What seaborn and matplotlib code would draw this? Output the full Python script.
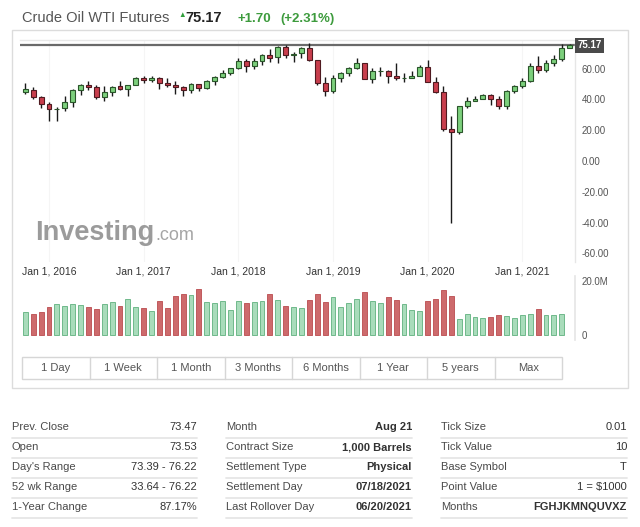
import numpy as np
import pandas as pd
import matplotlib
matplotlib.use("Agg")
import matplotlib.pyplot as plt
import matplotlib.transforms as mtrans
from matplotlib.patches import Rectangle
from matplotlib.lines import Line2D
import seaborn as sns

# ---------------- data (monthly, Oct 2015 .. Jul 2021) ----------------
opens = [45.09, 46.14, 41.85, 36.81, 33.50, 34.12, 38.30, 45.86, 49.10, 48.27, 41.42, 44.74,
         48.43, 46.79, 49.48, 53.87, 52.81, 54.00, 50.54, 49.35, 48.35, 46.03, 50.17, 47.23,
         51.67, 54.40, 57.36, 60.20, 64.90, 61.79, 64.90, 68.60, 67.25, 74.02, 68.55, 69.88,
         73.30, 65.34, 50.93, 45.41, 53.79, 57.22, 60.14, 63.91, 53.50, 58.47, 58.58, 55.10,
         54.07, 54.18, 55.17, 61.06, 51.56, 44.76, 20.48, 18.84, 35.49, 39.27, 40.27, 42.61,
         40.22, 35.79, 45.34, 48.52, 52.20, 61.50, 59.16, 63.58, 66.32, 73.53]
highs = [50.92, 48.36, 42.26, 38.39, 34.82, 41.90, 46.78, 50.21, 51.67, 49.06, 48.75, 48.40,
         51.93, 49.20, 54.51, 55.24, 54.94, 54.56, 53.76, 52.00, 48.98, 50.43, 50.22, 52.86,
         54.90, 59.05, 60.51, 66.66, 66.27, 66.66, 69.56, 72.90, 74.46, 75.27, 70.84, 74.00,
         76.90, 65.50, 54.55, 55.75, 57.81, 60.73, 66.60, 63.91, 60.09, 60.94, 58.82, 63.38,
         56.92, 58.65, 62.34, 65.65, 54.66, 48.75, 29.13, 35.84, 41.63, 42.51, 43.78, 43.43,
         41.93, 46.26, 49.43, 53.93, 63.81, 67.98, 65.47, 68.87, 76.22, 76.22]
lows = [43.23, 40.00, 34.53, 26.19, 26.05, 32.74, 35.24, 43.03, 45.83, 40.57, 39.19, 42.52,
        46.16, 42.20, 49.17, 50.71, 51.22, 47.01, 48.18, 43.76, 42.05, 44.40, 45.58, 46.51,
        49.10, 54.20, 55.82, 59.90, 58.07, 59.95, 62.45, 64.22, 63.59, 67.03, 64.43, 67.00,
        64.86, 49.41, 42.36, 44.35, 51.23, 55.04, 60.05, 53.05, 50.60, 55.31, 50.52, 52.64,
        50.99, 54.09, 55.00, 51.34, 44.00, 19.27, -40.32, 17.75, 34.36, 38.72, 40.21, 36.13,
        33.64, 33.64, 44.06, 47.18, 51.55, 57.25, 57.63, 61.56, 64.73, 73.39]
closes = [46.59, 41.65, 37.04, 33.62, 33.75, 38.34, 45.92, 49.10, 48.33, 41.60, 44.70, 48.24,
          46.86, 49.44, 53.72, 52.81, 54.01, 50.60, 49.33, 48.32, 46.04, 50.17, 47.23, 51.67,
          54.38, 57.40, 60.42, 64.73, 61.64, 64.94, 68.57, 67.04, 74.15, 68.76, 69.80, 73.25,
          65.31, 50.93, 45.41, 53.79, 57.22, 60.14, 63.91, 53.50, 58.47, 58.58, 55.10, 54.07,
          54.18, 55.17, 61.06, 51.56, 44.76, 20.48, 18.84, 35.49, 39.27, 40.27, 42.61, 40.22,
          35.79, 45.34, 48.52, 52.20, 61.50, 59.16, 63.58, 66.32, 73.47, 75.17]
# volume in millions (Oct 2015 .. Jun 2021)
volume_m = [8.4, 7.8, 8.6, 10.5, 11.5, 10.9, 11.5, 11.2, 10.5, 9.5, 11.5, 12.2,
            10.9, 13.3, 10.5, 10.0, 9.0, 12.6, 9.9, 14.4, 15.1, 14.8, 17.2, 12.2,
            11.9, 12.6, 9.4, 12.5, 11.9, 12.1, 12.6, 15.1, 12.8, 10.9, 10.4, 10.1,
            13.0, 15.1, 12.2, 14.0, 10.5, 11.9, 13.3, 16.0, 12.6, 11.9, 14.0, 13.0,
            11.5, 9.4, 9.0, 12.6, 13.3, 16.8, 14.4, 5.8, 7.7, 6.6, 6.2, 6.6,
            7.3, 6.9, 6.2, 7.3, 7.7, 9.7, 7.3, 7.3, 7.7]
x_tick_idx = [3, 15, 27, 39, 51, 63]
x_tick_labels = ["Jan 1, 2016", "Jan 1, 2017", "Jan 1, 2018", "Jan 1, 2019", "Jan 1, 2020", "Jan 1, 2021"]
y_ticks = [-60, -40, -20, 0, 20, 40, 60]
last_price = 75.17

title_text = "Crude Oil WTI Futures"
price_text = "75.17"
change_text = "+1.70"
pct_text = "(+2.31%)"
buttons = ["1 Day", "1 Week", "1 Month", "3 Months", "6 Months", "1 Year", "5 years", "Max"]
col1_labels = ["Prev. Close", "Open", "Day's Range", "52 wk Range", "1-Year Change"]
col1_values = ["73.47", "73.53", "73.39 - 76.22", "33.64 - 76.22", "87.17%"]
col2_labels = ["Month", "Contract Size", "Settlement Type", "Settlement Day", "Last Rollover Day"]
col2_values = ["Aug 21", "1,000 Barrels", "Physical", "07/18/2021", "06/20/2021"]
col3_labels = ["Tick Size", "Tick Value", "Base Symbol", "Point Value", "Months"]
col3_values = ["0.01", "10", "T", "1 = $1000", "FGHJKMNQUVXZ"]

# ---------------- style ----------------
sns.set_theme(style="white")
plt.rcParams['font.family'] = ['Liberation Sans', 'DejaVu Sans']

W, H = 640, 527
fig = plt.figure(figsize=(W / 100, H / 100), dpi=100)
fig.patch.set_facecolor("white")

def fx(px):
    return px / W

def fy(py):
    return 1 - py / H

# outer container box
fig.add_artist(Rectangle((fx(12), fy(388)), fx(628) - fx(12), fy(30) - fy(388),
                         transform=fig.transFigure, fill=False, ec="#dcdcdc", lw=1))

XL = (-0.67, 69.67)

# ---------------- candle axes ----------------
ax = fig.add_axes([fx(20), fy(262), fx(575) - fx(20), fy(40) - fy(262)])
ax.set_facecolor("white")
n = len(opens)
xs = np.arange(n)
o = np.array(opens); c = np.array(closes); hi = np.array(highs); lo = np.array(lows)
up = c >= o
ax.vlines(xs, lo, hi, color="#1a1a1a", lw=1.0, zorder=1)
body_b = np.minimum(o, c)
body_h = np.maximum(np.abs(c - o), 0.15)
ax.bar(xs[up], body_h[up], bottom=body_b[up], width=0.62, color="#7ccf7c",
       edgecolor="#2a552a", lw=0.8, zorder=2)
ax.bar(xs[~up], body_h[~up], bottom=body_b[~up], width=0.62, color="#c83e4d",
       edgecolor="#4f1a20", lw=0.8, zorder=2)

ax.axhline(last_price, color="#6a6a6a", lw=1.6, zorder=0)
trans = mtrans.blended_transform_factory(ax.transAxes, ax.transData)
ax.text(1.004, last_price, f"{last_price:.2f}", transform=trans, ha="left", va="center",
        color="white", fontsize=7, fontweight="bold",
        bbox=dict(boxstyle="square,pad=0.25", fc="#4a4a4a", ec="none"))

ax.set_xlim(*XL)
ax.set_ylim(-65.58, 78.57)
ax.yaxis.tick_right()
ax.set_yticks(y_ticks)
ax.set_yticklabels([f"{v:.2f}" for v in y_ticks])
ax.set_xticks(x_tick_idx)
ax.set_xticklabels(x_tick_labels)
ax.tick_params(axis="y", length=0, pad=5, labelsize=7, labelcolor="#555555")
ax.tick_params(axis="x", length=0, pad=3, labelsize=7.5, labelcolor="#333333")
for t in x_tick_idx:
    ax.axvline(t, color="#f5f5f5", lw=0.8, zorder=-1)
for s in ["left", "bottom"]:
    ax.spines[s].set_visible(False)
ax.spines["top"].set_color("#e8e8e8")
ax.spines["right"].set_color("#e6e6e6")
ax.spines["top"].set_linewidth(1)
ax.spines["right"].set_linewidth(1)

# watermark
wm = fig.text(fx(35), fy(240), "Investing", fontsize=19.5, fontweight="bold", color="#9b9b9b",
              ha="left", va="baseline")
renderer = fig.canvas.get_renderer()
bb = wm.get_window_extent(renderer=renderer)
fig.text(bb.x1 / (W) + 0.002, fy(240), ".com", fontsize=13, color="#a5a5a5",
         ha="left", va="baseline")

# ---------------- volume axes ----------------
axv = fig.add_axes([fx(20), fy(340), fx(575) - fx(20), fy(276) - fy(340)])
axv.set_facecolor("none")
nv = len(volume_m)
vdf = pd.DataFrame({
    "idx": np.arange(nv),
    "vol": np.array(volume_m) * 1e6,
    "dir": np.where(up[:nv], "up", "down"),
})
sns.barplot(data=vdf, x="idx", y="vol", hue="dir", palette={"up": "#a9dcbb", "down": "#cd6a6c"},
            native_scale=True, width=0.62, dodge=False, legend=False, saturation=1, ax=axv)
for p in axv.patches:
    fc = p.get_facecolor()
    if fc[1] > fc[0]:
        p.set_edgecolor("#6fb98b")
    else:
        p.set_edgecolor("#c05a5d")
    p.set_linewidth(0.7)
axv.set_xlim(*XL)
axv.set_ylim(-1.85e6, 21.85e6)
axv.yaxis.tick_right()
axv.set_yticks([0, 20e6])
axv.set_yticklabels(["0", "20.0M"])
axv.set_xticks([])
axv.set_xlabel("")
axv.set_ylabel("")
axv.tick_params(axis="y", length=0, pad=5, labelsize=7, labelcolor="#555555")
for s in ["left", "bottom", "top"]:
    axv.spines[s].set_visible(False)
axv.spines["right"].set_color("#e6e6e6")

# ---------------- title ----------------
fig.text(fx(22), fy(22), title_text, fontsize=10.5, color="#555555", ha="left", va="baseline")
fig.text(fx(178), fy(17), "\u25b2", fontsize=5.5, color="#2f9e3a", ha="left", va="baseline")
fig.text(fx(185), fy(22), price_text, fontsize=10.5, fontweight="bold", color="#222222",
         ha="left", va="baseline")
fig.text(fx(237), fy(22), change_text, fontsize=9.5, fontweight="bold", color="#3d9b3d",
         ha="left", va="baseline")
fig.text(fx(280), fy(22), pct_text, fontsize=9.5, fontweight="bold", color="#3d9b3d",
         ha="left", va="baseline")

# ---------------- buttons ----------------
bx0, bx1, by0, by1 = 22, 562, 357, 379
bw = (bx1 - bx0) / len(buttons)
fig.add_artist(Rectangle((fx(bx0), fy(by1)), fx(bx1) - fx(bx0), fy(by0) - fy(by1),
                         transform=fig.transFigure, fill=False, ec="#d6d6d6", lw=1))
for k, b in enumerate(buttons):
    if k > 0:
        xx = bx0 + k * bw
        fig.add_artist(Line2D([fx(xx), fx(xx)], [fy(by0), fy(by1)], transform=fig.transFigure,
                              color="#d6d6d6", lw=1))
    fig.text(fx(bx0 + (k + 0.5) * bw), fy((by0 + by1) / 2), b, fontsize=8, color="#555555",
             ha="center", va="center")

# ---------------- table ----------------
cols = [
    (12, 197, col1_labels, col1_values, "normal"),
    (226, 412, col2_labels, col2_values, "bold"),
    (441, 627, col3_labels, col3_values, "normal"),
]
row_y = [427, 447, 467, 487, 507]
for (xl, xr, labs, vals, wt) in cols:
    for r, (lab, val) in enumerate(zip(labs, vals)):
        y = row_y[r]
        fig.text(fx(xl), fy(y), lab, fontsize=8, color="#4a4a4a", ha="left", va="center")
        w = wt
        if val == "FGHJKMNQUVXZ":
            w = "bold"
        fig.text(fx(xr), fy(y), val, fontsize=8, color="#333333", ha="right", va="center",
                 fontweight=w)
        fig.add_artist(Line2D([fx(xl), fx(xr)], [fy(y + 10.5), fy(y + 10.5)],
                              transform=fig.transFigure, color="#e6e6e6", lw=1.3))

fig.savefig("out.png", dpi=100, facecolor="white")
